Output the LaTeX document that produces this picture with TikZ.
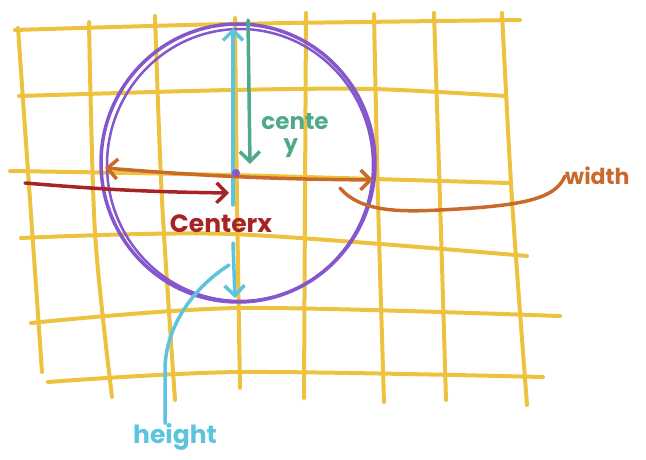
\documentclass[tikz,border=0pt]{standalone}
\usepackage{fontspec}
\setmainfont{Poppins}
\usetikzlibrary{arrows.meta}
\definecolor{gridy}{HTML}{EDC23F}
\definecolor{circp}{HTML}{8557CC}
\definecolor{cyanh}{HTML}{5CC4DC}
\definecolor{greeny}{HTML}{4FAA8C}
\definecolor{orangew}{HTML}{C96A2B}
\definecolor{redx}{HTML}{A62424}
\tikzset{
  gridline/.style={gridy, line width=4pt, line cap=round, line join=round},
  ring/.style={circp, line width=3.5pt},
  pen/.style={line width=3.5pt, line cap=round, line join=round},
  tipb/.tip={Straight Barb[length=10pt,width=20pt,line width=3.5pt]},
  barb/.style={-tipb},
  lbl/.style={inner sep=0pt, font=\bfseries},
}
\begin{document}
\begin{tikzpicture}[x=1pt,y=-1pt]
\useasboundingbox (0,0) rectangle (646,460);
% grid horizontals
\draw[gridline] plot[smooth] coordinates {(15,30) (230,24) (520,20)};
\draw[gridline] plot[smooth] coordinates {(19,96) (231,90) (372,89) (506,96)};
\draw[gridline] plot[smooth] coordinates {(10,171) (231,175) (508,183)};
\draw[gridline] plot[smooth] coordinates {(21,238) (231,234) (527,256)};
\draw[gridline] plot[smooth] coordinates {(31,323) (240,308) (560,316)};
\draw[gridline] plot[smooth] coordinates {(48,382) (240,372) (543,377)};
% grid verticals
\draw[gridline] plot[smooth] coordinates {(18,28) (30,200) (42,372)};
\draw[gridline] plot[smooth] coordinates {(89,22) (95,233) (112,397)};
\draw[gridline] plot[smooth] coordinates {(155,16) (162,200) (175,400)};
\draw[gridline] plot[smooth] coordinates {(235,18) (237,200) (240,388)};
\draw[gridline] plot[smooth] coordinates {(306,13) (305,200) (304,398)};
\draw[gridline] plot[smooth] coordinates {(374,14) (378,200) (384,402)};
\draw[gridline] plot[smooth] coordinates {(434,13) (440,200) (446,400)};
\draw[gridline] plot[smooth] coordinates {(502,13) (512,200) (527,405)};
% circle (double hand-drawn stroke)
\draw[ring] (238,163) ellipse [x radius=137, y radius=139];
\draw[ring, line width=2.5pt] (240,165) ellipse [x radius=133, y radius=136];
% coordinates
\coordinate (cyanTop) at (233,28);
\coordinate (cyanMid) at (233,205);
\coordinate (cyanLow) at (233,243);
\coordinate (cyanBot) at (235,298);
\coordinate (greenTop) at (248,20);
\coordinate (greenBot) at (250,164);
\coordinate (widthL) at (105,168);
\coordinate (widthR) at (373,180);
\coordinate (redL) at (25,183);
\coordinate (redR) at (229,193);
\coordinate (wStart) at (340,188);
\coordinate (hStart) at (229,265);
\coordinate (dot) at (236,173);
% labels
\node[lbl, greeny, font=\bfseries\fontsize{23}{23}\selectfont] (cy1) at (295,122) {cente};
\node[lbl, greeny, font=\bfseries\fontsize{23}{23}\selectfont] (cy2) at (291,148) {y};
\node[lbl, redx, font=\bfseries\fontsize{25}{25}\selectfont] (cx) at (221,224) {Centerx};
\node[lbl, orangew, font=\bfseries\fontsize{22}{22}\selectfont, anchor=west] (wd) at (565,176) {width};
\node[lbl, cyanh, font=\bfseries\fontsize{25}{25}\selectfont] (ht) at (175,437) {height};
% cyan height arrows
\draw[pen, cyanh, barb] (cyanMid) -- (cyanTop);
\draw[pen, cyanh, barb] (cyanLow) -- (cyanBot);
\draw[pen, cyanh] (hStart) .. controls (190,290) and (165,330) .. (165,370) -- (ht.north -| 165,0);
% green centre y
\draw[pen, greeny, barb] (greenTop) -- (greenBot);
% orange width
\draw[pen, orangew, tipb-tipb] (widthL) to[bend right=2] (widthR);
\draw[pen, orangew] (wStart) .. controls (360,212) and (400,212) .. (440,210) .. controls (520,206) and (555,200) .. (wd.west);
% red centre x
\draw[pen, redx, barb] (redL) to[bend right=2] (redR);
% centre dot
\fill[circp] (dot) circle (4);
\end{tikzpicture}
\end{document}
